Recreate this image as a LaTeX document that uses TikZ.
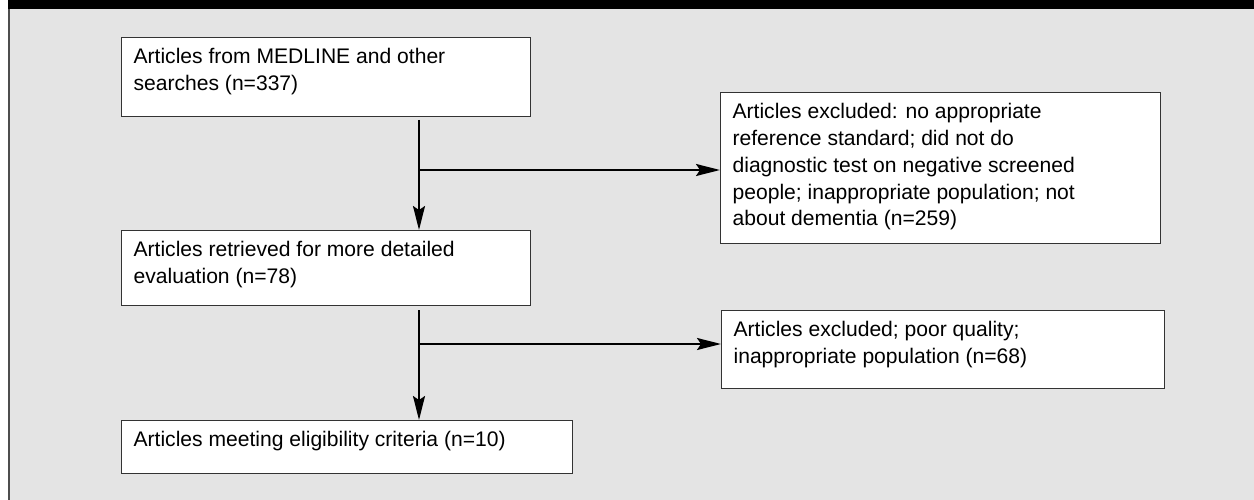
\documentclass[tikz,border=0pt]{standalone}
\usepackage{fontspec}
\setmainfont{Liberation Sans}
\usetikzlibrary{arrows.meta}

\definecolor{panel}{HTML}{E4E4E4}
\definecolor{rim}{HTML}{4D4D4D}

\newcommand{\flowtext}[3]{\parbox[t][#2][t]{#1}{\raggedright\rule{0pt}{15pt}#3}}

\begin{document}
\begin{tikzpicture}[x=0.02cm, y=-0.02cm,
  box/.style={draw=black!80, line width=0.7pt, fill=white, anchor=north west,
    inner xsep=0.24cm, inner ysep=0pt, font=\fontsize{12}{15.2}\selectfont},
  flow/.style={line width=1.15pt, -{Stealth[length=0.48cm, width=0.24cm, inset=0.08cm]}}]

\useasboundingbox (0,0) rectangle (1254,500);
\fill[white] (0,0) rectangle (1254,500);
\fill[panel] (9,9) rectangle (1254,500);
\fill[black] (8,0) rectangle (1254,9);
\fill[rim] (8,9) rectangle (10,500);

\node [box] (search) at (121,37) {\flowtext{7.70cm}{1.58cm}{Articles from MEDLINE and other\\searches (n=337)}};
\node [box] (excl1) at (720,92) {\flowtext{8.32cm}{3.02cm}{Articles excluded: no appropriate\\reference standard; did not do\\diagnostic test on negative screened\\people; inappropriate population; not\\about dementia (n=259)}};
\node [box] (retrieved) at (121,230) {\flowtext{7.70cm}{1.50cm}{Articles retrieved for more detailed\\evaluation (n=78)}};
\node [box] (excl2) at (721,310) {\flowtext{8.38cm}{1.56cm}{Articles excluded; poor quality;\\inappropriate population (n=68)}};
\node [box] (eligible) at (121,420) {\flowtext{8.54cm}{1.06cm}{Articles meeting eligibility criteria (n=10)}};

\coordinate (s1) at (419,120);
\coordinate (j1) at (419,170);
\coordinate (s2) at (419,310);
\coordinate (j2) at (419,344);

\draw[flow] (s1) -- (s1 |- retrieved.north);
\draw[flow] (j1) -- (j1 -| excl1.west);
\draw[flow] (s2) -- (s2 |- eligible.north);
\draw[flow] (j2) -- (j2 -| excl2.west);

\end{tikzpicture}
\end{document}
